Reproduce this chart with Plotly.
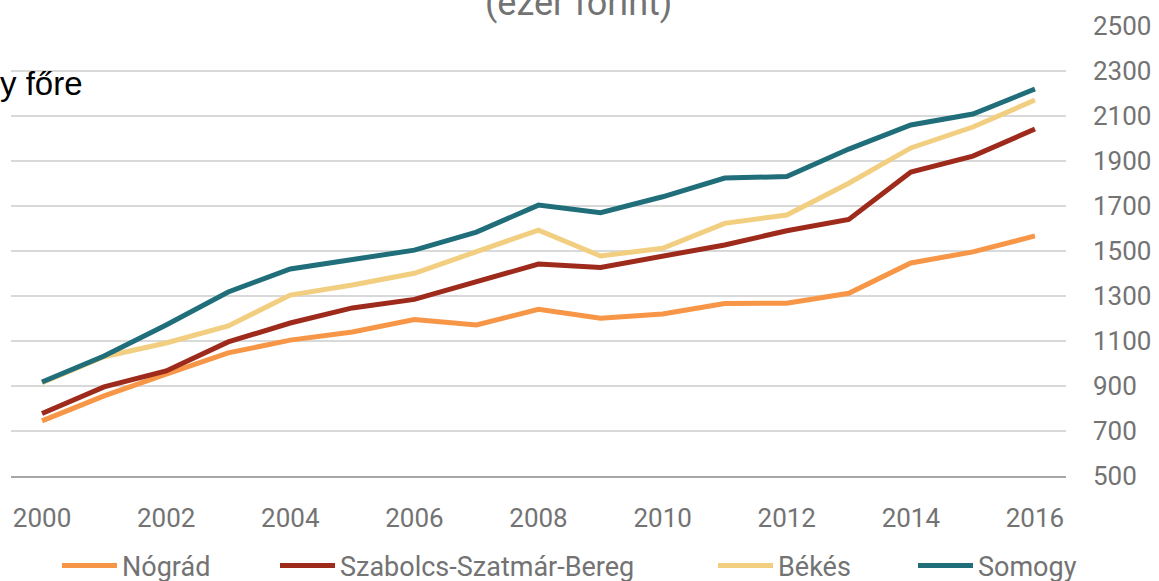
import plotly.graph_objects as go

years = list(range(2000, 2017))
nograd = [745, 856, 953, 1047, 1104, 1140, 1195, 1171, 1241, 1201, 1220, 1267, 1268, 1312, 1447, 1496, 1567]
szabolcs = [778, 896, 967, 1096, 1180, 1247, 1285, 1364, 1442, 1427, 1478, 1527, 1590, 1640, 1851, 1922, 2042]
bekes = [915, 1030, 1091, 1167, 1304, 1349, 1401, 1497, 1593, 1478, 1512, 1623, 1660, 1801, 1958, 2051, 2171]
somogy = [918, 1033, 1171, 1318, 1420, 1460, 1504, 1584, 1704, 1670, 1741, 1824, 1831, 1953, 2060, 2109, 2220]

names = ["Nógrád", "Szabolcs-Szatmár-Bereg", "Békés", "Somogy"]
series = [nograd, szabolcs, bekes, somogy]
colors = ["#F79646", "#9E2A1C", "#F2CF80", "#1F6E7A"]
x_ticks = list(range(2000, 2017, 2))
y_ticks = list(range(500, 2501, 200))

W, H = 1159, 581
L, R, T, B = 11, 93, 26, 105
PW, PH = W - L - R, H - T - B


def px_x(p):
    return (p - L) / PW


def px_y(p):
    return 1 + (T - p) / PH


fig = go.Figure()
legend_ids = ["legend", "legend2", "legend3", "legend4"]
legend_px = [57, 275, 713, 913]
for name, vals, col, lid in zip(names, series, colors, legend_ids):
    fig.add_trace(go.Scatter(
        x=years, y=vals, name=name, mode="lines",
        line=dict(color=col, width=5),
        legend=lid,
    ))

font_tick = dict(family="Roboto", size=26, color="#737373")
font_leg = dict(family="Roboto", size=27, color="#737373")

layout_legends = {}
for lid, lx in zip(legend_ids, legend_px):
    layout_legends[lid] = dict(
        orientation="h", xref="container", yref="container",
        x=lx / W, xanchor="left",
        y=1 - 566 / H, yanchor="middle",
        font=font_leg, itemwidth=55,
        bgcolor="rgba(0,0,0,0)", borderwidth=0,
    )

fig.update_layout(
    width=W, height=H,
    margin=dict(l=L, r=R, t=T, b=B, pad=0, autoexpand=False),
    paper_bgcolor="white", plot_bgcolor="white",
    showlegend=True,
    xaxis=dict(
        range=[1999.5, 2016.5], tickvals=x_ticks,
        ticktext=[str(v) for v in x_ticks],
        showgrid=False, zeroline=False, automargin=False,
        showline=True, linecolor="#a6a6a6", linewidth=2,
        ticks="", tickfont=font_tick, ticklabelstandoff=18,
    ),
    yaxis=dict(
        range=[500, 2500], tickvals=y_ticks, side="right",
        showgrid=True, gridcolor="#d9d9d9", gridwidth=2,
        zeroline=False, showline=False, automargin=False,
        ticks="", tickfont=font_tick, ticklabelstandoff=26,
    ),
    annotations=[
        dict(text="(ezer forint)", xref="paper", yref="paper",
             x=px_x(578), y=px_y(3), xanchor="center", yanchor="middle",
             showarrow=False, font=dict(family="Roboto", size=36, color="#737373")),
        dict(text="y főre", xref="paper", yref="paper",
             x=px_x(85), y=px_y(83), xanchor="right", yanchor="middle",
             showarrow=False, font=dict(family="Liberation Sans, Arial", size=33, color="#000000")),
    ],
    **layout_legends,
)

fig.write_html("out.html", config={"displayModeBar": False},
               post_script="document.body.style.margin='0px';")
